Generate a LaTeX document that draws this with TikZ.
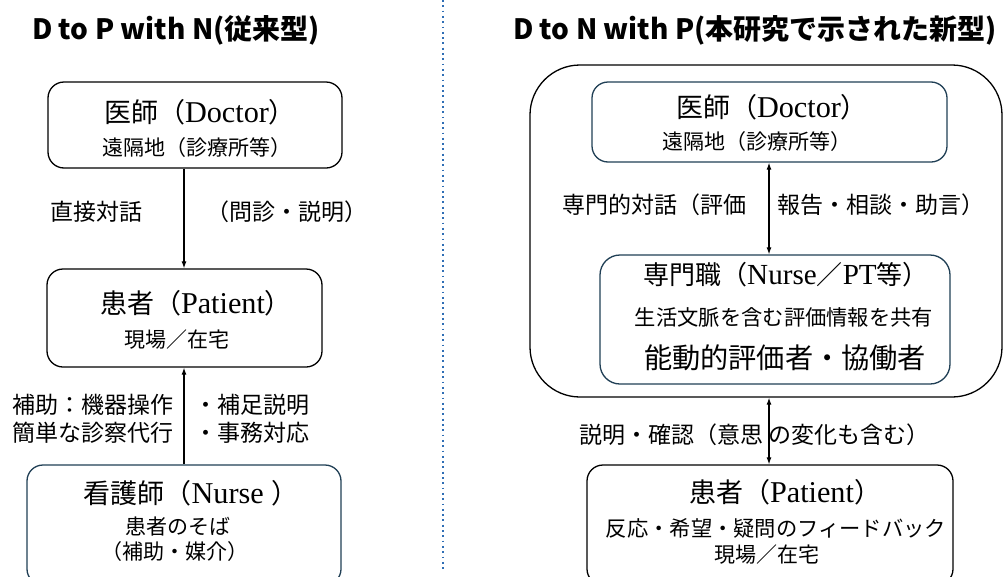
\documentclass[tikz,border=0pt]{standalone}
\usepackage{fontspec}
\setmainfont{Liberation Serif}[Scale=1.12]
\newfontfamily\jp{Noto Sans CJK JP}
\usetikzlibrary{arrows.meta}
\definecolor{boxteal}{HTML}{203F55}
\definecolor{divblue}{HTML}{2F6EB5}
\newcommand\fs[1]{\fontsize{#1}{#1}\selectfont}
\newcommand\lat[1]{{\rmfamily #1}}
\begin{document}
\begin{tikzpicture}[x=1pt,y=-1pt,
  box/.style={draw=black, line width=1.3pt, rounded corners=16pt, inner sep=0pt},
  tbox/.style={box, draw=boxteal},
  txt/.style={inner sep=0pt, font=\jp},
  ttl/.style={txt, font=\jp\bfseries\fs{28}},
  big/.style={txt, font=\jp\fs{27}},
  sub/.style={txt, font=\jp\fs{21}},
  lab/.style={txt, font=\jp\fs{23}},
  arr/.style={line width=1.1pt, -{Latex[length=7pt,width=5pt]}},
  darr/.style={line width=1.1pt, {Latex[length=7pt,width=5pt]}-{Latex[length=7pt,width=5pt]}},
  divider/.style={draw=divblue, line width=1.6pt, dash pattern=on 1.8pt off 3.5pt}
]
\clip (0,0) rectangle (1004,576);
\fill[white] (0,0) rectangle (1004,576);

% titles
\node[ttl] (t1) at (176,30) {D to P with N(従来型)};
\node[ttl] (t2) at (755,30) {D to N with P(本研究で示された新型)};

% divider
\coordinate (dtop) at (443,0);
\coordinate (dbot) at (443,570);
\draw[divider] (dtop) -- (dbot);

% ---------- left ----------
\node[box, minimum width=294pt, minimum height=86pt] (ldoc) at (195,125) {};
\node[big] (ldocT) at (200,112) {医師（\lat{Doctor}）};
\node[sub] (ldocS) at (197,148) {遠隔地（診療所等）};

\node[box, minimum width=275pt, minimum height=98pt] (lpat) at (184.5,318) {};
\node[big] (lpatT) at (196,303) {患者（\lat{Patient}）};
\node[sub] (lpatS) at (177,340) {現場／在宅};

\node[tbox, minimum width=314pt, minimum height=120pt] (lnur) at (184,525) {};
\node[big] (lnurT) at (191,493) {看護師（\lat{Nurse }）};
\node[sub] (lnurS1) at (178,527) {患者のそば};
\node[sub] (lnurS2) at (175,552) {（補助・媒介）};

\coordinate (xL) at (184,0);
\draw[arr] (ldoc.south -| xL) -- (lpat.north -| xL);
\draw[arr] (lnur.north -| xL) -- (lpat.south -| xL);

\node[lab] (lab1) at (96,212) {直接対話};
\node[lab] (lab2) at (287,212) {（問診・説明）};
\node[lab, align=center, font=\jp\fontsize{23}{28}\selectfont] (lab3) at (93,419) {補助：機器操作\\簡単な診察代行};
\node[lab, align=left, anchor=west, font=\jp\fontsize{23}{28}\selectfont] (lab4) at (194,419) {・補足説明\\・事務対応};

% ---------- right ----------
\node[box, rounded corners=50pt, minimum width=472pt, minimum height=332pt] (outer) at (766,231) {};

\node[tbox, minimum width=355pt, minimum height=80pt] (rdoc) at (769.5,122) {};
\node[big] (rdocT) at (772,107) {医師（\lat{Doctor}）};
\node[sub] (rdocS) at (757,142) {遠隔地（診療所等）};

\node[tbox, rounded corners=20pt, minimum width=350pt, minimum height=129pt] (rspec) at (775,319.5) {};
\node[txt, font=\jp\fs{26}] (rspecT) at (786,275) {専門職（\lat{Nurse}／\lat{PT}等）};
\node[txt, font=\jp\fs{21.3}] (rspecS) at (784,317) {生活文脈を含む評価情報を共有};
\node[txt, font=\jp\fs{28.2}] (rspecB) at (785,358) {能動的評価者・協働者};

\node[box, minimum width=366pt, minimum height=120pt] (rpat) at (770,525) {};
\node[big] (rpatT) at (785,492) {患者（\lat{Patient}）};
\node[txt, font=\jp\fs{21.3}] (rpatS1) at (776,528) {反応・希望・疑問のフィードバック};
\node[sub] (rpatS2) at (767,555) {現場／在宅};

\coordinate (xR) at (769,0);
\draw[darr] (rdoc.south -| xR) -- (rspec.north -| xR);
\draw[darr] (outer.south -| xR) -- (rpat.north -| xR);

\node[lab] (lab5) at (654.5,205) {専門的対話（評価};
\node[lab] (lab6) at (881,205) {報告・相談・助言）};
\node[lab] (lab7) at (671,435) {説明・確認（意思};
\node[lab] (lab8) at (849,435) {の変化も含む）};
\end{tikzpicture}
\end{document}
